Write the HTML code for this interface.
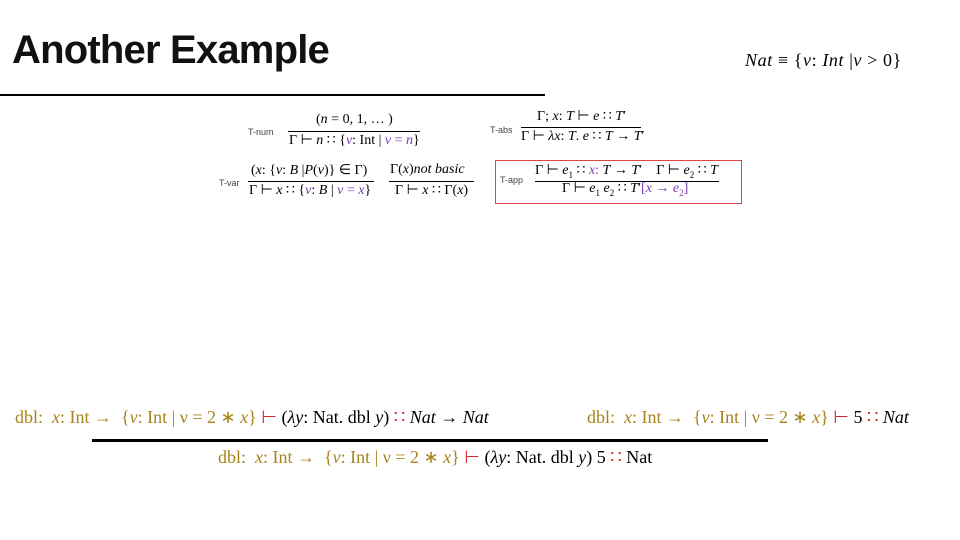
<!DOCTYPE html>
<html><head><meta charset="utf-8"><style>
body{margin:0;width:960px;height:540px;background:#fff;position:relative;overflow:hidden;font-family:"Liberation Serif",serif;}
.a{position:absolute;white-space:nowrap;}
.g{color:#a8841c}.p{color:#7a3db0}.r{color:#d42a2a}
.lab{font-family:"Liberation Sans",sans-serif;font-size:9px;color:#444;}
.m{font-size:14px;}
.bar{position:absolute;background:#000;height:1px;}
i{font-style:italic}
</style></head><body>
<div class="a" style="left:12px;top:28px;font-family:'Liberation Sans',sans-serif;font-weight:bold;font-size:40px;letter-spacing:-0.8px;color:#111">Another Example</div>
<div style="position:absolute;left:0;top:94px;width:545px;height:2px;background:#000"></div>
<div class="a" style="left:745px;top:50px;font-size:18px;letter-spacing:0.6px"><i>Nat</i> ≡ {<i>ν</i>: <i>Int</i> |<i>ν</i> &gt; 0}</div>

<div class="a lab" style="left:248px;top:127px">T-num</div>
<div class="a m" style="left:316px;top:112px">(<i>n</i> = 0, 1, … )</div>
<div class="bar" style="left:288px;top:131px;width:132px"></div>
<div class="a m" style="left:289px;top:132px">Γ ⊢ <i>n</i> ∷ {<i class="p">ν</i>: Int | <span class="p"><i>ν</i> = <i>n</i></span>}</div>

<div class="a lab" style="left:490px;top:125px">T-abs</div>
<div class="a m" style="left:537px;top:108px">Γ; <i>x</i>: <i>T</i> ⊢ <i>e</i> ∷ <i>T</i>′</div>
<div class="bar" style="left:521px;top:127px;width:120px"></div>
<div class="a m" style="left:521px;top:128px">Γ ⊢ <i>λx</i>: <i>T</i>. <i>e</i> ∷ <i>T</i> → <i>T</i>′</div>

<div class="a lab" style="left:219px;top:178px">T-var</div>
<div class="a m" style="left:251px;top:162px">(<i>x</i>: {<i>ν</i>: <i>B</i> |<i>P</i>(<i>ν</i>)} ∈ Γ)</div>
<div class="bar" style="left:248px;top:181px;width:126px"></div>
<div class="a m" style="left:249px;top:182px">Γ ⊢ <i>x</i> ∷ {<span class="p"><i>ν</i></span>: <i>B</i> | <span class="p"><i>ν</i> = <i>x</i></span>}</div>
<div class="a m" style="left:390px;top:162px">Γ(<i>x</i>)<i>not basic</i></div>
<div class="bar" style="left:389px;top:181px;width:85px"></div>
<div class="a m" style="left:395px;top:182px">Γ ⊢ <i>x</i> ∷ Γ(<i>x</i>)</div>

<div style="position:absolute;left:495px;top:160px;width:245px;height:42px;border:1px solid #d44"></div>
<div class="a lab" style="left:500px;top:175px">T-app</div>
<div class="a m" style="left:535px;top:162px">Γ ⊢ <i>e</i><sub style="font-size:9px">1</sub> ∷ <span class="p"><i>x</i>:</span> <i>T</i> → <i>T</i>′ &nbsp;&nbsp; Γ ⊢ <i>e</i><sub style="font-size:9px">2</sub> ∷ <i>T</i></div>
<div class="bar" style="left:535px;top:181px;width:184px"></div>
<div class="a m" style="left:562px;top:180px">Γ ⊢ <i>e</i><sub style="font-size:9px">1</sub> <i>e</i><sub style="font-size:9px">2</sub> ∷ <i>T</i>′<span class="p">[<i>x</i> → <i>e</i><sub style="font-size:9px">2</sub>]</span></div>

<div class="a" style="left:15px;top:407px;font-size:18px"><span class="g">dbl: &nbsp;<i>x</i>: Int → &nbsp;{<i>ν</i>: Int | ν = 2 ∗ <i>x</i>}</span> <span class="r">⊢</span> (<i>λy</i>: Nat. dbl <i>y</i>) <span class="r">∷</span> <i>Nat</i> → <i>Nat</i></div>
<div class="a" style="left:587px;top:407px;font-size:18px"><span class="g">dbl: &nbsp;<i>x</i>: Int → &nbsp;{<i>ν</i>: Int | ν = 2 ∗ <i>x</i>}</span> <span class="r">⊢</span> 5 <span class="r">∷</span> <i>Nat</i></div>
<div style="position:absolute;left:92px;top:439px;width:676px;height:3px;background:#000"></div>
<div class="a" style="left:218px;top:447px;font-size:18px"><span class="g">dbl: &nbsp;<i>x</i>: Int → &nbsp;{<i>ν</i>: Int | ν = 2 ∗ <i>x</i>}</span> <span class="r">⊢</span> (<i>λy</i>: Nat. dbl <i>y</i>) 5 <span class="r">∷</span> Nat</div>
</body></html>
